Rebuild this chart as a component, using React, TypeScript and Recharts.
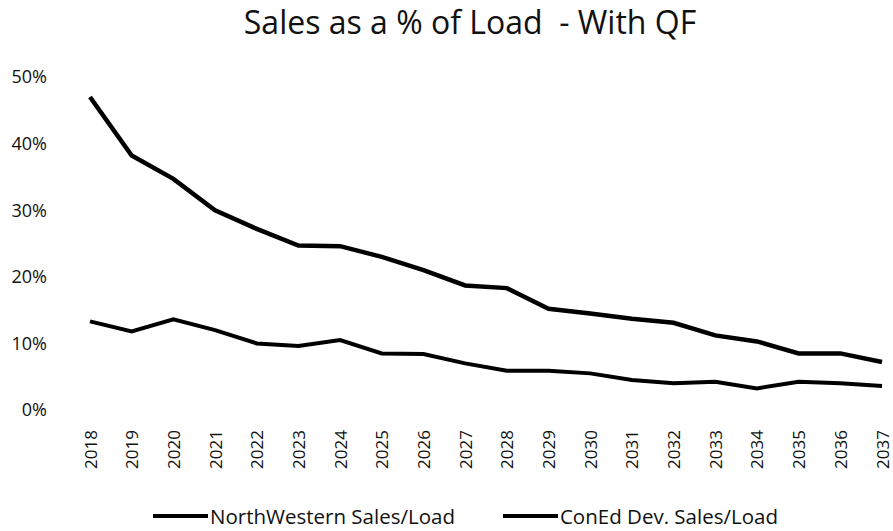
import React from "react";
import { LineChart, Line, XAxis, YAxis } from "recharts";

const years = [
  "2018", "2019", "2020", "2021", "2022", "2023", "2024", "2025", "2026", "2027",
  "2028", "2029", "2030", "2031", "2032", "2033", "2034", "2035", "2036", "2037",
];

const northWestern = [
  47.0, 38.2, 34.7, 30.0, 27.2, 24.7, 24.6, 23.0, 21.0, 18.7,
  18.3, 15.2, 14.5, 13.7, 13.1, 11.2, 10.3, 8.5, 8.5, 7.2,
];

const conEd = [
  13.3, 11.8, 13.6, 12.0, 10.0, 9.6, 10.5, 8.5, 8.4, 7.0,
  5.9, 5.9, 5.5, 4.5, 4.0, 4.25, 3.25, 4.25, 4.0, 3.6,
];

const yTicks = [0, 10, 20, 30, 40, 50];

const seriesNames = ["NorthWestern Sales/Load", "ConEd Dev. Sales/Load"];

const FONT = "'Open Sans', sans-serif";

const data = years.map((year, i) => ({
  year,
  nw: northWestern[i],
  ce: conEd[i],
}));

// rotated year label, centred on the tick
const YearTick = (props: any) => {
  const { x, y, payload } = props;
  return (
    <text
      x={x}
      y={y}
      transform={`rotate(-90, ${x}, ${y})`}
      textAnchor="end"
      dominantBaseline="central"
      fill="#111"
      fontSize={17}
      fontFamily={FONT}
    >
      {payload.value}
    </text>
  );
};

export default function App() {
  return (
    <div
      style={{
        position: "absolute",
        left: 0,
        top: 0,
        width: 893,
        height: 531,
        background: "#fff",
        fontFamily: FONT,
      }}
    >
      <div
        style={{
          position: "absolute",
          top: 0,
          left: 0,
          width: 940,
          textAlign: "center",
          fontSize: 32,
          color: "#111",
          whiteSpace: "pre",
        }}
      >
        {"Sales as a % of Load  - With QF"}
      </div>
      <LineChart
        width={893}
        height={531}
        data={data}
        margin={{ top: 77, right: 11, left: 8, bottom: 61 }}
      >
        <XAxis
          dataKey="year"
          axisLine={false}
          tickLine={false}
          tickSize={0}
          tickMargin={20}
          interval={0}
          height={60}
          tick={<YearTick />}
        />
        <YAxis
          domain={[0, 50]}
          ticks={yTicks}
          width={82}
          axisLine={false}
          tickLine={false}
          tickSize={0}
          tickMargin={43}
          tickFormatter={(v: number) => `${v}%`}
          tick={{ fill: "#111", fontSize: 18, fontFamily: FONT }}
        />
        <Line
          dataKey="nw"
          name={seriesNames[0]}
          stroke="#000"
          strokeWidth={4.5}
          dot={false}
          type="linear"
          isAnimationActive={false}
        />
        <Line
          dataKey="ce"
          name={seriesNames[1]}
          stroke="#000"
          strokeWidth={4}
          dot={false}
          type="linear"
          isAnimationActive={false}
        />
      </LineChart>
      <div
        style={{
          position: "absolute",
          top: 502,
          left: 0,
          width: 893,
          display: "flex",
          justifyContent: "center",
          gap: 48,
          fontSize: 20.5,
          color: "#111",
          marginLeft: 19,
        }}
      >
        {seriesNames.map((name) => (
          <div key={name} style={{ display: "flex", alignItems: "center" }}>
            <span
              style={{
                display: "inline-block",
                width: 55,
                height: 4,
                background: "#000",
                marginRight: 2,
              }}
            />
            <span>{name}</span>
          </div>
        ))}
      </div>
    </div>
  );
}
